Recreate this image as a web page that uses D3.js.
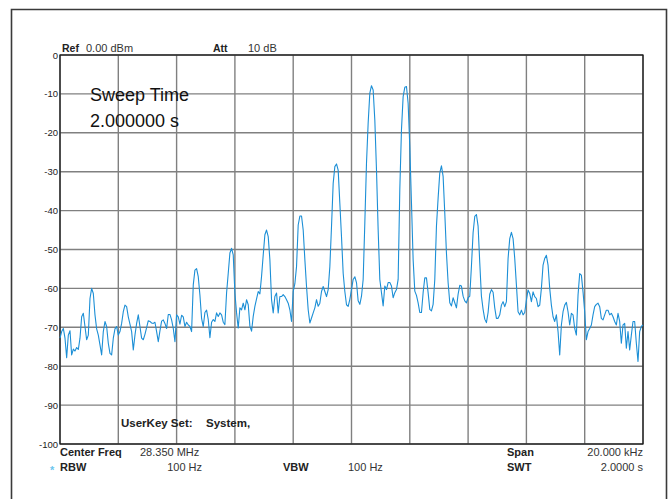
<!DOCTYPE html>
<html>
<head>
<meta charset="utf-8">
<script src="https://cdn.jsdelivr.net/npm/d3@7"></script>
<style>
  body { margin: 0; background: #fff; }
  svg text { font-family: "Liberation Sans", Arial, sans-serif; }
</style>
</head>
<body>
<div id="chart"></div>
<script>
// level axis (dBm) and frequency grid (kHz offset from 28.350 MHz)
var levelTicks = [0, -10, -20, -30, -40, -50, -60, -70, -80, -90, -100];
var freqGridKHz = [-10, -8, -6, -4, -2, 0, 2, 4, 6, 8, 10];

// trace: 351 sweep points across the 20 kHz span
var traceStartKHz = -10;
var traceStepKHz = 20 / 350;
var traceDbm = [
  -72.8,-71.1,-70.3,-72.8,-77.8,-72.0,-70.9,-77.1,-75.6,-76.1,
  -75.2,-75.7,-72.8,-67.3,-66.4,-69.8,-73.2,-72.0,-62.6,-60.0,
  -61.3,-66.8,-70.4,-72.0,-74.5,-77.1,-71.1,-68.5,-69.8,-74.1,
  -76.7,-77.1,-72.8,-70.4,-69.8,-72.0,-71.1,-69.0,-66.0,-64.3,
  -64.7,-67.3,-69.2,-71.1,-75.8,-72.0,-69.0,-66.8,-69.8,-72.8,
  -73.2,-71.8,-70.1,-68.3,-68.5,-68.9,-69.0,-68.7,-71.1,-73.7,
  -70.9,-68.4,-68.1,-69.0,-70.3,-66.7,-66.7,-68.1,-70.3,-73.7,
  -66.8,-67.3,-69.2,-66.9,-67.3,-69.8,-68.7,-69.4,-69.8,-71.1,
  -59.1,-55.3,-54.9,-57.0,-61.7,-67.7,-69.8,-66.2,-65.6,
  -68.0,-72.7,-68.7,-68.0,-68.5,-66.3,-67.2,-66.3,-66.8,-68.7,
  -69.3,-61.2,-56.1,-50.9,-49.7,-51.4,-61.2,-66.3,-70.2,-65.0,
  -65.5,-63.8,-65.5,-62.9,-64.2,-69.7,-71.0,-67.2,-64.6,-62.7,
  -60.8,-61.4,-56.9,-51.4,-46.2,-45.0,-46.7,-52.6,-62.9,-66.3,
  -62.1,-61.2,-66.3,-62.1,-62.1,-61.6,-62.1,-62.9,-63.8,-65.5,
  -68.5,-60.8,-58.8,-54.4,-43.7,-41.4,-41.4,-45.0,-52.6,-59.5,
  -65.5,-68.9,-67.6,-66.3,-65.0,-62.9,-64.6,-63.8,-60.8,-59.5,
  -60.8,-62.1,-60.3,-54.4,-44.1,-33.0,-28.7,-28.0,-29.6,-38.1,
  -46.7,-56.1,-60.8,-64.2,-64.6,
  -62.8,-60.3,-57.7,-57.0,-58.5,-63.2,-64.1,-62.0,-57.7,-43.2,
  -27.8,-17.5,-9.8,-7.9,-9.0,-16.7,-29.5,-44.9,-57.7,-61.1,
  -64.5,-59.4,-60.3,-58.5,-58.5,-59.4,-62.4,-61.1,-60.3,-57.7,
  -34.6,-19.2,-10.7,-8.3,-8.1,-12.4,-23.5,-38.0,-52.6,-60.7,
  -61.8,-63.7,-66.2,-66.2,-61.1,-57.3,-57.3,-61.1,-65.4,-65.8,
  -64.1,-57.7,-44.0,-36.8,-30.3,-28.5,-31.2,-40.6,-50.9,-58.5,
  -63.7,-64.5,-62.4,-63.7,-65.0,-61.5,-59.2,-59.4,-62.0,-63.2,
  -63.7,-62.4,-62.0,-54.3,-45.7,-41.5,-41.0,-44.0,-53.4,-62.0,
  -65.4,-67.9,-68.8,-66.2,-61.5,-60.3,-61.0,-65.0,
  -67.7,-67.7,-66.8,-64.3,-63.4,-64.7,-63.4,-52.3,-47.2,-45.6,
  -47.2,-52.3,-59.1,-66.0,-66.8,-65.6,-66.8,-66.2,-63.0,-60.4,
  -61.3,-63.4,-60.9,-62.1,-62.6,-64.7,-64.3,-60.0,-54.0,-52.3,
  -51.5,-54.0,-60.0,-64.3,-67.3,-68.5,-66.8,-71.1,-77.1,-69.4,
  -66.0,-64.3,-63.6,-66.0,-69.4,-66.4,-66.8,-70.3,-72.0,-61.7,
  -56.2,-56.6,-60.9,-66.0,-73.2,-71.1,-70.3,-69.4,-66.8,-64.7,
  -64.1,-63.8,-64.7,-67.7,-68.1,-66.8,-65.6,-65.6,-66.8,-66.4,
  -67.3,-68.5,-69.4,-66.4,-68.5,-74.1,-69.4,-69.0,-75.4,-71.1,
  -75.8,-72.0,-68.5,-68.5,-74.1,-78.8,-71.1,-69.8,-69.4
];

var width = 671, height = 499;
var plot = { left: 60, right: 643, top: 55, bottom: 444 };

var svg = d3.select("#chart").append("svg")
    .attr("width", width)
    .attr("height", height);

// outer instrument frame (open at the bottom)
svg.append("path")
    .attr("d", "M11.5,499 V9.5 H666.5 V499")
    .attr("fill", "none")
    .attr("stroke", "#3a3a3a")
    .attr("stroke-width", 1.6);

var x = d3.scaleLinear().domain([-10, 10]).range([plot.left, plot.right]);
var y = d3.scaleLinear().domain([-100, 0]).range([plot.bottom, plot.top]);

// grid
svg.append("g").selectAll("line")
    .data(levelTicks)
    .join("line")
    .attr("x1", plot.left).attr("x2", plot.right)
    .attr("y1", function(d) { return y(d); })
    .attr("y2", function(d) { return y(d); })
    .attr("stroke", "#808080")
    .attr("stroke-width", 1.4);

svg.append("g").selectAll("line")
    .data(freqGridKHz)
    .join("line")
    .attr("x1", function(d) { return x(d); })
    .attr("x2", function(d) { return x(d); })
    .attr("y1", plot.top).attr("y2", plot.bottom)
    .attr("stroke", "#808080")
    .attr("stroke-width", 1.4);

svg.append("rect")
    .attr("x", plot.left).attr("y", plot.top)
    .attr("width", plot.right - plot.left)
    .attr("height", plot.bottom - plot.top)
    .attr("fill", "none")
    .attr("stroke", "#111")
    .attr("stroke-width", 1.2);

// level labels (plain hyphen like the instrument screen)
var yAxis = svg.append("g")
    .attr("transform", "translate(" + plot.left + ",0)")
    .call(d3.axisLeft(y).tickValues(levelTicks).tickSize(0).tickPadding(2)
          .tickFormat(function(d) { return String(d); }));
yAxis.select(".domain").remove();
yAxis.selectAll("text")
    .attr("fill", "#222")
    .style("font-size", "9.5px");

// trace
var line = d3.line()
    .x(function(d, i) { return x(traceStartKHz + i * traceStepKHz); })
    .y(function(d) { return y(d); });

svg.append("path")
    .datum(traceDbm)
    .attr("d", line)
    .attr("fill", "none")
    .attr("stroke", "#1c8fd6")
    .attr("stroke-width", 1.1)
    .attr("stroke-linejoin", "round");

// annotations
function label(txt, px, py, opts) {
  opts = opts || {};
  return svg.append("text")
      .attr("x", px).attr("y", py)
      .attr("text-anchor", opts.anchor || "start")
      .attr("fill", opts.color || "#222")
      .style("font-size", (opts.size || 11) + "px")
      .style("font-weight", opts.bold ? "bold" : "normal")
      .text(txt);
}

label("Ref", 62, 52, { bold: true, size: 10.5 });
label("0.00 dBm", 86, 52, { color: "#333", size: 11 });
label("Att", 213, 52, { bold: true, size: 10.5 });
label("10 dB", 248, 52, { color: "#333", size: 11 });

label("Sweep Time", 90, 101, { size: 18, color: "#111" });
label("2.000000 s", 90, 127, { size: 18, color: "#111" });

label("UserKey Set:", 121, 427, { bold: true, size: 11.5 });
label("System,", 206, 427, { bold: true, size: 11.5 });

label("Center Freq", 60, 456, { bold: true, size: 11 });
label("28.350 MHz", 140, 456, { color: "#333", size: 11 });
label("Span", 507, 456, { bold: true, size: 11 });
label("20.000 kHz", 643, 456, { color: "#333", size: 11, anchor: "end" });

label("*", 50, 474, { color: "#6cc6ee", size: 11, bold: true });
label("RBW", 60, 471, { bold: true, size: 11 });
label("100 Hz", 202, 471, { color: "#333", size: 11, anchor: "end" });
label("VBW", 283, 471, { bold: true, size: 11 });
label("100 Hz", 348, 471, { color: "#333", size: 11 });
label("SWT", 507, 471, { bold: true, size: 11 });
label("2.0000 s", 643, 471, { color: "#333", size: 11, anchor: "end" });
</script>
</body>
</html>
